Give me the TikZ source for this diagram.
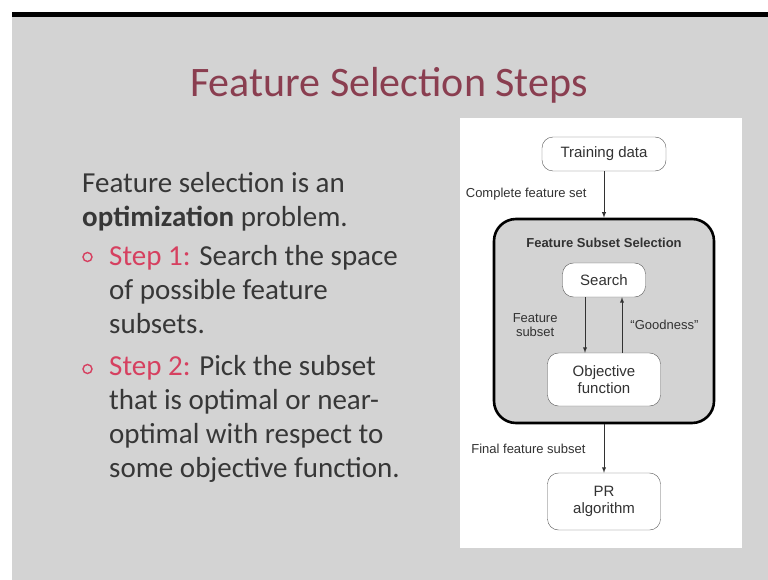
\documentclass[tikz,border=0pt]{standalone}
\usepackage{xcolor}
\usepackage{fontspec}
\setmainfont{Carlito}
\newfontfamily\diagfont{Liberation Sans}
\usepackage{tikz}
\usetikzlibrary{positioning}

\definecolor{slidegray}{RGB}{211,211,211}
\definecolor{titlecol}{RGB}{138,62,80}
\definecolor{stepcol}{RGB}{214,64,96}
\definecolor{bodycol}{RGB}{55,55,55}
\definecolor{diagcol}{RGB}{50,50,50}

\begin{document}
\begin{tikzpicture}[
    x=1pt, y=-1pt, >=latex,
    body/.style={anchor=base west, align=left, inner sep=0pt, text=bodycol, font=\fontsize{29}{34}\selectfont},
    bullet/.style={circle, draw=stepcol, line width=1.4pt, minimum size=9pt, inner sep=0pt},
    box/.style={rectangle, rounded corners=11pt, draw=gray!70!black, fill=white, text=diagcol, align=center, font=\diagfont\fontsize{15}{17}\selectfont, inner sep=0pt},
    lbl/.style={text=diagcol, align=center, font=\diagfont\fontsize{13}{14}\selectfont, inner sep=0pt},
    conn/.style={->, draw=diagcol, line width=0.9pt}
]
\useasboundingbox (0,0) rectangle (768,580);

% Slide background
\fill[white] (0,0) rectangle (768,580);
\fill[slidegray] (12,17) rectangle (768,580);
\fill[black] (12,12.5) rectangle (768,17.5);

% Title
\node[anchor=base, inner sep=0pt, text=titlecol, font=\fontsize{42}{48}\selectfont] (title) at (389,97) {Feature Selection Steps};

% Left text (anchored at the last line)
\node[body] (intro) at (82,226) {Feature selection is an\\\textbf{optimization} problem.};
\node[bullet] (bulletone) at (87.5,257) {};
\node[body] (stepone) at (109,333) {\textcolor{stepcol}{Step 1:} Search the space\\of possible feature\\subsets.};
\node[bullet] (bullettwo) at (87.5,369) {};
\node[body] (steptwo) at (109,477) {\textcolor{stepcol}{Step 2:} Pick the subset\\that is optimal or near-\\optimal with respect to\\some objective function.};

% Diagram panel
\fill[white] (460,118) rectangle (742,548);

\node[box, minimum width=124pt, minimum height=34pt] (train) at (604,154) {Training data};
\node[rectangle, rounded corners=22pt, draw=black, line width=2.6pt, fill=slidegray, minimum width=220pt, minimum height=204pt] (fss) at (604,321) {};
\node[lbl, font=\diagfont\bfseries\fontsize{13}{14}\selectfont] (fsstitle) at (604,243) {Feature Subset Selection};
\node[box, minimum width=83pt, minimum height=34pt] (search) at (604,280) {Search};
\node[box, minimum width=113pt, minimum height=53pt] (objective) at (604,379.5) {Objective\\function};
\node[box, minimum width=113pt, minimum height=57pt] (pr) at (604,501.5) {PR\\algorithm};

% Arrows
\draw[conn] (train) -- (fss) node[lbl, midway, left=17pt] (lblcomplete) {Complete feature set};
\draw[conn] ([xshift=-19pt]search.south) -- ([xshift=-19pt]search.south |- objective.north) node[lbl, midway, left=27pt] (lblsubset) {Feature\\subset};
\draw[conn] ([xshift=18pt]objective.north) -- ([xshift=18pt]objective.north |- search.south) node[lbl, midway, right=8pt] (lblgood) {“Goodness”};
\draw[conn] (fss) -- (pr) node[lbl, midway, left=18pt] (lblfinal) {Final feature subset};

\end{tikzpicture}
\end{document}
